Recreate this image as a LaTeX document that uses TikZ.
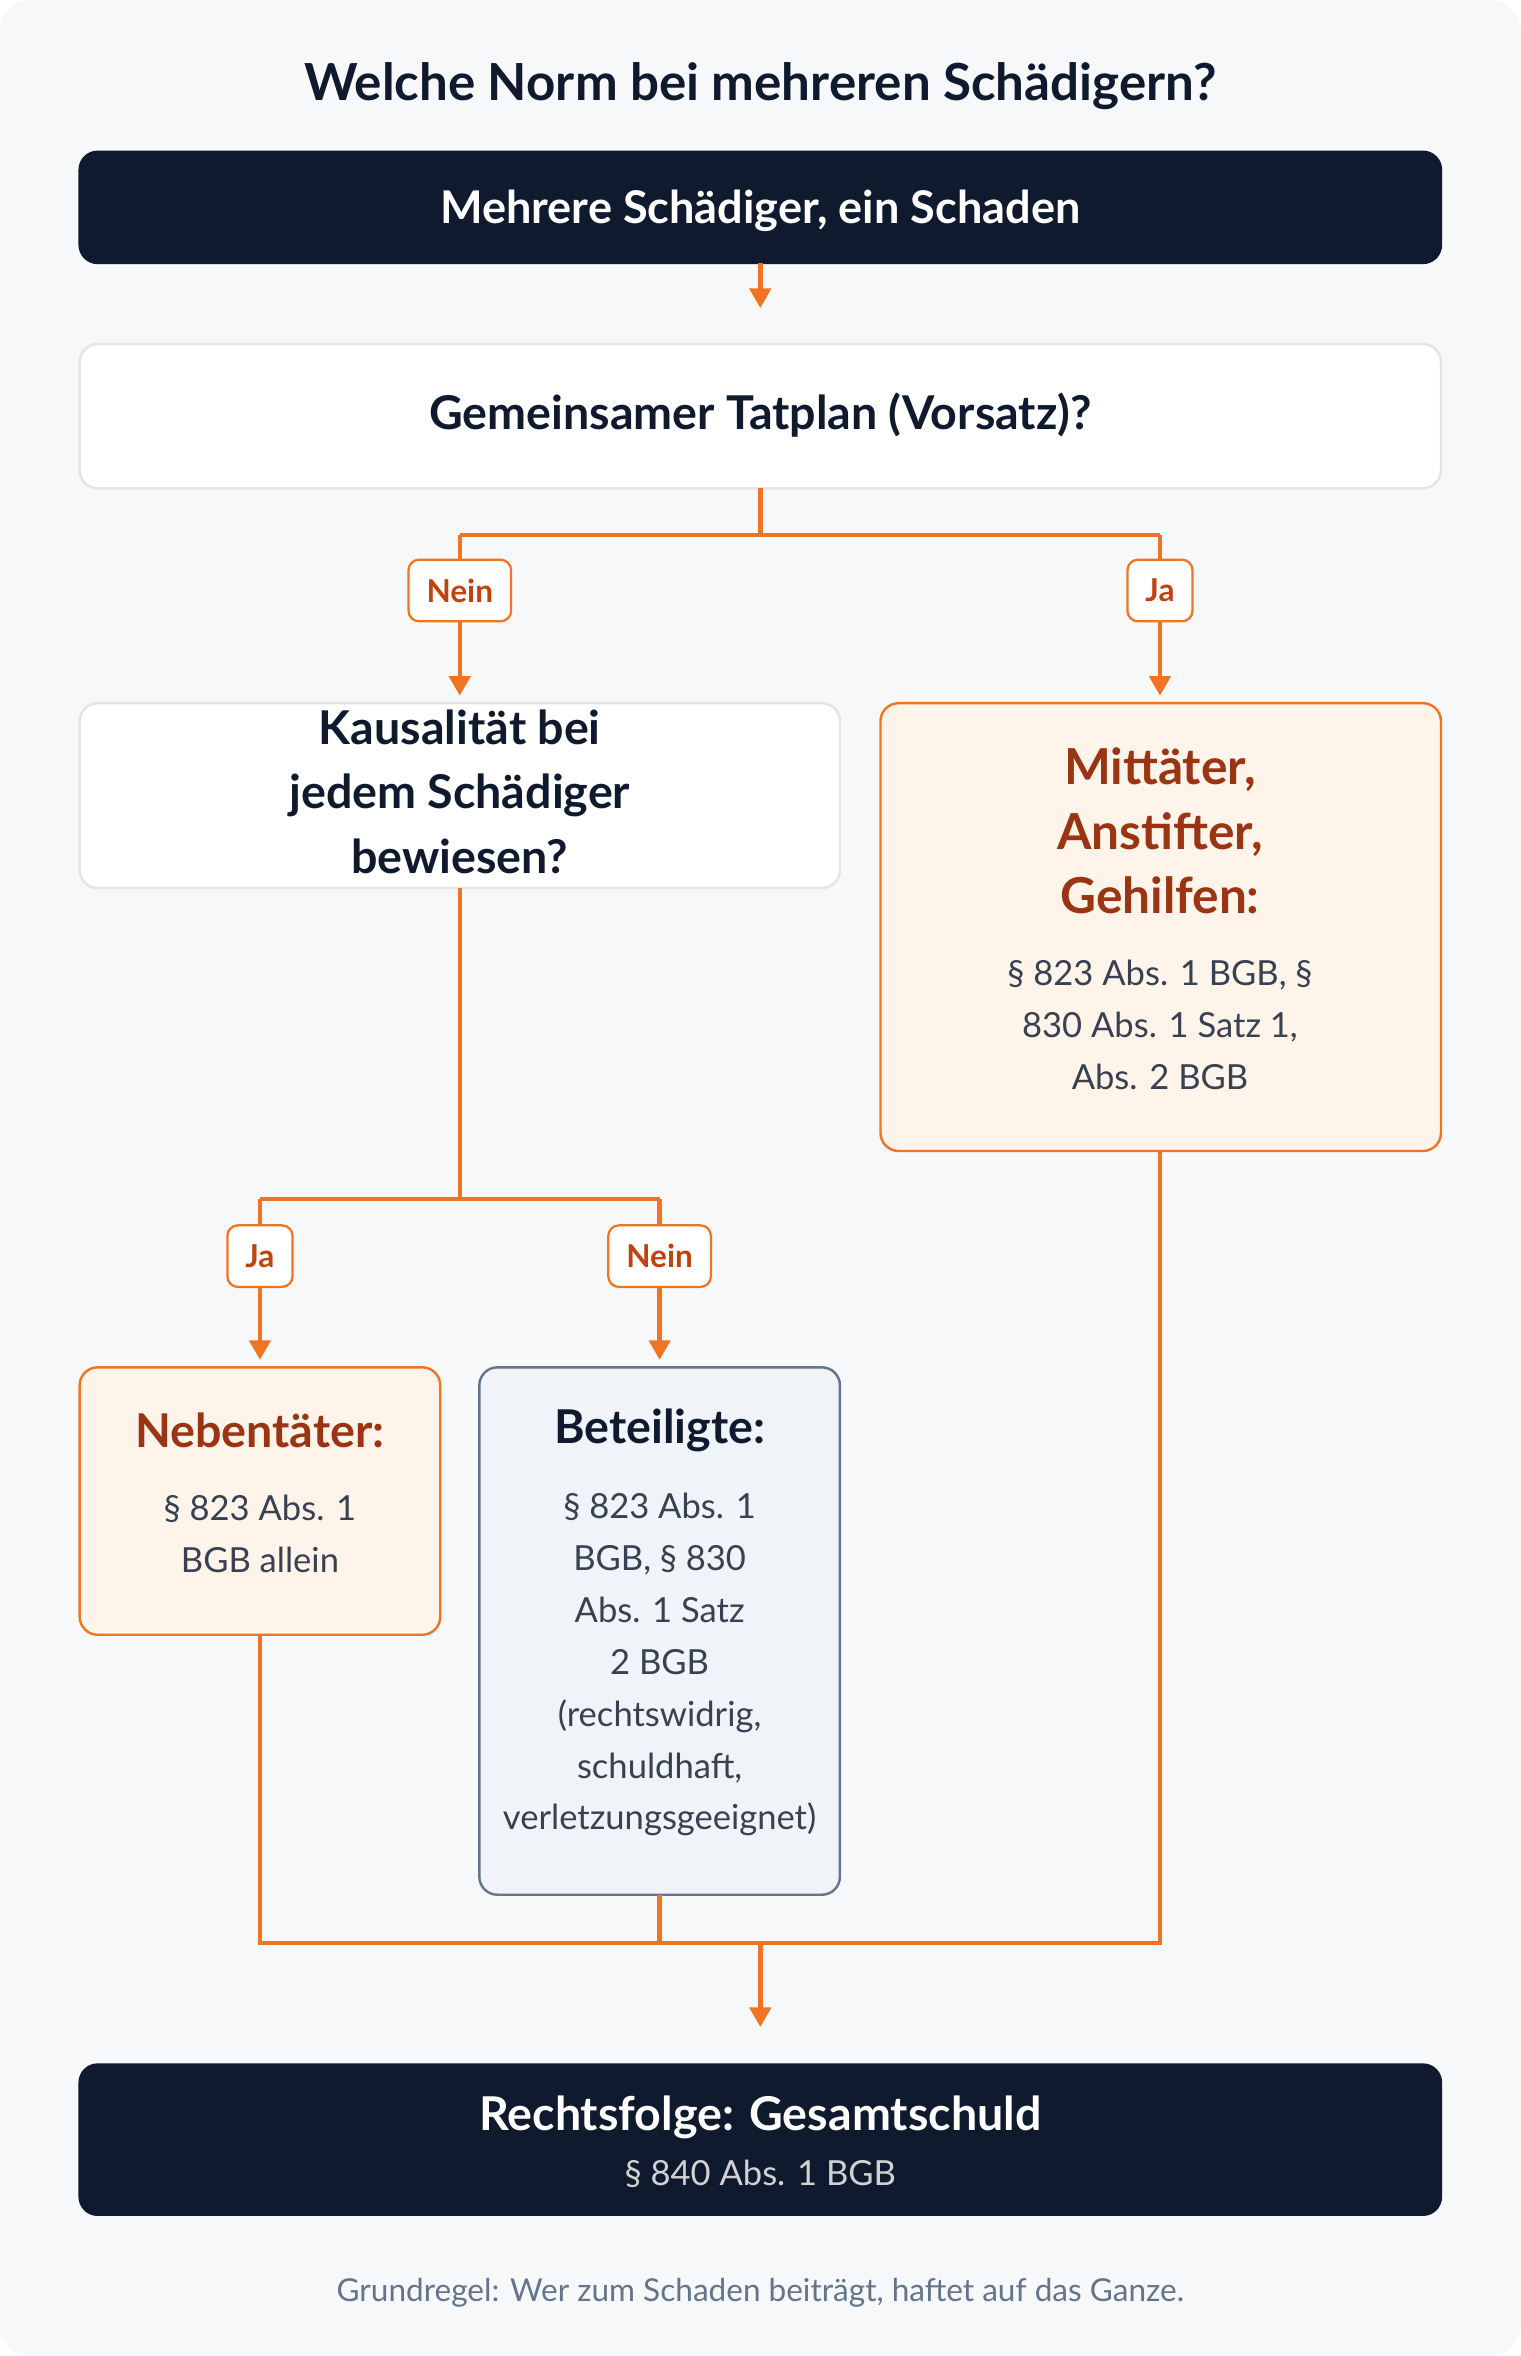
\documentclass[tikz,border=0pt]{standalone}
\usepackage{fontspec}
\setmainfont{Lato}
\usetikzlibrary{arrows.meta}
\definecolor{navy}{HTML}{0F1A2E}
\definecolor{flow}{HTML}{F07422}
\definecolor{rust}{HTML}{9A3412}
\definecolor{labtxt}{HTML}{C2410C}
\definecolor{peach}{HTML}{FFF4EA}
\definecolor{mist}{HTML}{F0F4F9}
\definecolor{slate}{HTML}{64748B}
\definecolor{ink}{HTML}{374151}
\definecolor{page}{HTML}{F7F8FA}
\begin{document}
\begin{tikzpicture}[x=1pt,y=-1pt,
    box/.style={rounded corners=12pt, line width=1.6pt, inner sep=0pt},
    dark/.style={box, fill=navy, draw=navy},
    plain/.style={box, fill=white, draw=gray!20},
    hot/.style={box, fill=peach, draw=flow},
    cool/.style={box, fill=mist, draw=slate},
    tag/.style={draw=flow, fill=white, rounded corners=7pt, line width=1.5pt,
      text=labtxt, font=\fontsize{21}{24}\selectfont\bfseries, minimum height=41pt, inner xsep=12pt},
    link/.style={flow, line width=3pt},
    go/.style={link, -{Triangle[length=13pt,width=14pt]}},
    head/.style={font=\fontsize{31}{43}\selectfont\bfseries, align=center},
    body/.style={font=\fontsize{23}{34.5}\selectfont, align=center, text=ink}]
  % page
  \fill[page, rounded corners=20pt] (0,0) rectangle (1012,1568);
  \node[font=\fontsize{34}{40}\selectfont\bfseries, text=navy] (title) at (506,57) {Welche Norm bei mehreren Schädigern?};

  % boxes
  \draw[dark] (53,101) rectangle (959,175);
  \node[head, text=white, font=\fontsize{30}{36}\selectfont\bfseries] (start) at (506,140) {Mehrere Schädiger, ein Schaden};
  \draw[plain] (53,229) rectangle (959,325);
  \node[head, text=navy] (plan) at (506,276) {Gemeinsamer Tatplan (Vorsatz)?};
  \draw[plain] (53,468) rectangle (559,591);
  \node[head, text=navy] (kaus) at (306,527) {Kausalität bei\\jedem Schädiger\\bewiesen?};
  \draw[hot] (586,468) rectangle (959,766);
  \node[head, text=rust, font=\fontsize{33}{43}\selectfont\bfseries] (mitt) at (772,553) {Mittäter,\\Anstifter,\\Gehilfen:};
  \node[body] (mittb) at (772,682) {§ 823 Abs. 1 BGB, §\\830 Abs. 1 Satz 1,\\Abs. 2 BGB};
  \draw[hot] (53,910) rectangle (293,1088);
  \node[head, text=rust] (neben) at (173,952) {Nebentäter:};
  \node[body] (nebenb) at (173,1021) {§ 823 Abs. 1\\BGB allein};
  \draw[cool] (319,910) rectangle (559,1261);
  \node[head, text=navy] (beteil) at (439,952) {Beteiligte:};
  \node[body] (beteilb) at (439,1108) {§ 823 Abs. 1\\BGB, § 830\\Abs. 1 Satz\\2 BGB\\(rechtswidrig,\\schuldhaft,\\verletzungsgeeignet)};
  \draw[dark] (53,1374) rectangle (959,1474);
  \node[head, text=white, font=\fontsize{31}{36}\selectfont\bfseries] (folge) at (506,1409) {Rechtsfolge: Gesamtschuld};
  \node[body, text=gray!35] (folgeb) at (506,1447) {§ 840 Abs. 1 BGB};
  \node[font=\fontsize{21}{25}\selectfont, text=slate] (note) at (506,1526) {Grundregel: Wer zum Schaden beiträgt, haftet auf das Ganze.};

  % connectors
  \coordinate (s1) at (506,175); \coordinate (s2) at (506,205);
  \draw[go] (s1) -- (s2);
  \coordinate (p0) at (506,325); \coordinate (pm) at (506,356);
  \coordinate (pl) at (306,356); \coordinate (pr) at (772,356);
  \coordinate (pla) at (306,463); \coordinate (pra) at (772,463);
  \draw[link] (p0) -- (pm) (pl) -- (pr);
  \node[tag] (nein1) at (306,393) {Nein};
  \node[tag] (ja1) at (772,393) {Ja};
  \draw[link] (pl) -- (nein1); \draw[link] (pr) -- (ja1);
  \draw[go] (nein1) -- (pla); \draw[go] (ja1) -- (pra);
  \coordinate (k0) at (306,591); \coordinate (km) at (306,798);
  \coordinate (kl) at (173,798); \coordinate (kr) at (439,798);
  \coordinate (kla) at (173,905); \coordinate (kra) at (439,905);
  \draw[link] (k0) -- (km) (kl) -- (kr);
  \node[tag] (ja2) at (173,836) {Ja};
  \node[tag] (nein2) at (439,836) {Nein};
  \draw[link] (kl) -- (ja2); \draw[link] (kr) -- (nein2);
  \draw[go] (ja2) -- (kla); \draw[go] (nein2) -- (kra);
  \coordinate (e1) at (173,1088); \coordinate (e2) at (439,1261); \coordinate (e3) at (772,766);
  \coordinate (j1) at (173,1293); \coordinate (j2) at (439,1293); \coordinate (j3) at (772,1293);
  \coordinate (jm) at (506,1293); \coordinate (jend) at (506,1349);
  \draw[link] (e1) -- (j1) -- (j3) -- (e3);
  \draw[link] (e2) -- (j2);
  \draw[go] (jm) -- (jend);
\end{tikzpicture}
\end{document}
